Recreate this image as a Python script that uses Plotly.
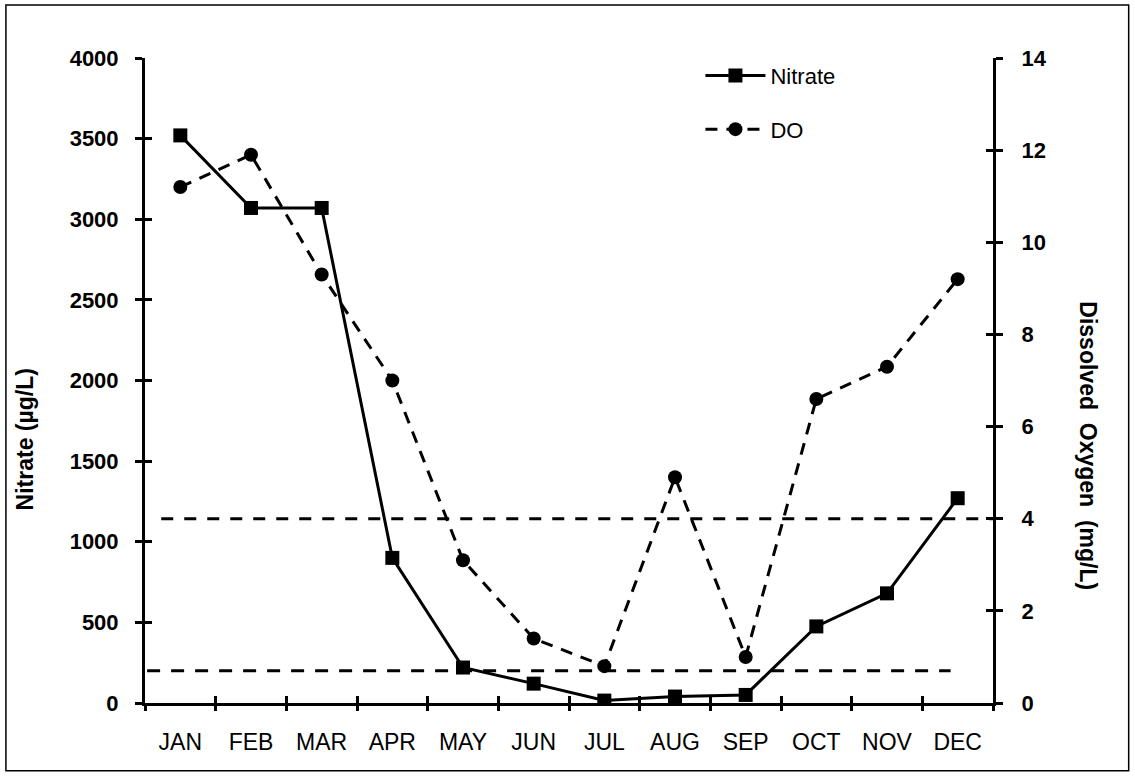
import plotly.graph_objects as go

# Monthly values
months = ["JAN", "FEB", "MAR", "APR", "MAY", "JUN",
          "JUL", "AUG", "SEP", "OCT", "NOV", "DEC"]
nitrate = [3520, 3070, 3070, 900, 220, 120, 15, 40, 50, 475, 680, 1270]   # µg/L
dissolved_oxygen = [11.2, 11.9, 9.3, 7.0, 3.1, 1.4, 0.8, 4.9, 1.0, 6.6, 7.3, 9.2]  # mg/L

# Reference levels (value, start/end position along the month axis)
do_limit = 4            # mg/L, right axis
do_limit_span = [-0.27, 11.5]
nitrate_limit = 200     # µg/L, left axis
nitrate_limit_span = [-0.47, 10.9]

left_ticks = list(range(0, 4001, 500))
right_ticks = list(range(0, 15, 2))
month_pos = list(range(len(months)))
boundaries = [i - 0.5 for i in range(len(months) + 1)]

FONT = "Liberation Sans, Arial, sans-serif"

fig = go.Figure()

fig.add_trace(go.Scatter(
    x=month_pos, y=nitrate, name="Nitrate", mode="lines+markers",
    line=dict(color="black", width=3),
    marker=dict(symbol="square", size=14, color="black"),
    xaxis="x", yaxis="y", legendgroup="a",
))
fig.add_trace(go.Scatter(
    x=month_pos, y=dissolved_oxygen, name="DO", mode="lines+markers",
    line=dict(color="black", width=3, dash="12px,9px"),
    marker=dict(symbol="circle", size=14, color="black"),
    xaxis="x", yaxis="y2", legendgroup="b",
))

# Horizontal reference lines (drawn on the overlay axes that carry the inner ticks)
fig.add_trace(go.Scatter(
    x=do_limit_span, y=[do_limit, do_limit], mode="lines", showlegend=False,
    line=dict(color="black", width=3, dash="12px,11px"),
    xaxis="x3", yaxis="y4", hoverinfo="skip",
))
fig.add_trace(go.Scatter(
    x=nitrate_limit_span, y=[nitrate_limit, nitrate_limit], mode="lines", showlegend=False,
    line=dict(color="black", width=3, dash="13px,11px"),
    xaxis="x2", yaxis="y3", hoverinfo="skip",
))

axis_common = dict(showgrid=False, zeroline=False, linecolor="black", linewidth=3,
                   tickcolor="black", tickwidth=3, ticklen=7)
month_range = [-0.5, 11.5]

fig.update_layout(
    width=1135, height=777,
    margin=dict(l=145, r=142, t=58, b=74),
    paper_bgcolor="white", plot_bgcolor="white",
    font=dict(family=FONT, color="black"),
    showlegend=True,
    legend=dict(
        x=0.655, y=1.005, xanchor="left", yanchor="top",
        font=dict(size=22, family=FONT), bgcolor="rgba(0,0,0,0)",
        itemwidth=60, tracegroupgap=22,
    ),
    xaxis=dict(
        **axis_common, range=month_range,
        tickvals=month_pos, ticktext=months, ticks="", showline=True,
        tickfont=dict(size=23, family=FONT), ticklabelstandoff=16,
    ),
    xaxis2=dict(
        **axis_common, overlaying="x", range=month_range, anchor="y",
        tickvals=boundaries, ticks="outside", showticklabels=False, showline=False,
    ),
    xaxis3=dict(
        **axis_common, overlaying="x", range=month_range, anchor="y",
        tickvals=boundaries, ticks="inside", showticklabels=False, showline=False,
    ),
    yaxis=dict(
        **axis_common, range=[0, 4000], tickvals=left_ticks, ticks="outside",
        showline=True, tickfont=dict(size=22, family=FONT, weight="bold"),
        ticklabelstandoff=12,
    ),
    yaxis3=dict(
        **axis_common, overlaying="y", range=[0, 4000], tickvals=left_ticks,
        ticks="inside", showticklabels=False, showline=False, anchor="x",
    ),
    yaxis2=dict(
        **axis_common, overlaying="y", side="right", range=[0, 14],
        tickvals=right_ticks, ticks="outside", showline=True, anchor="x",
        tickfont=dict(size=22, family=FONT, weight="bold"), ticklabelstandoff=14,
    ),
    yaxis4=dict(
        **axis_common, overlaying="y", side="right", range=[0, 14],
        tickvals=right_ticks, ticks="inside", showticklabels=False, showline=False,
        anchor="x",
    ),
)

# Axis titles
fig.add_annotation(
    text="Nitrate (µg/L)", textangle=-90,
    xref="paper", yref="paper", x=-0.142, y=0.408, xanchor="center", yanchor="middle",
    showarrow=False, font=dict(size=23, family=FONT, weight="bold"),
)
fig.add_annotation(
    text="Dissolved  Oxygen  (mg/L)", textangle=90,
    xref="paper", yref="paper", x=1.112, y=0.398, xanchor="center", yanchor="middle",
    showarrow=False, font=dict(size=23, family=FONT, weight="bold"),
)

# Outer frame
fig.add_shape(type="rect", xref="paper", yref="paper",
              x0=-0.164, x1=1.16, y0=-0.105, y1=1.082,
              line=dict(color="black", width=1.5), layer="below")

fig.write_html("out.html")
